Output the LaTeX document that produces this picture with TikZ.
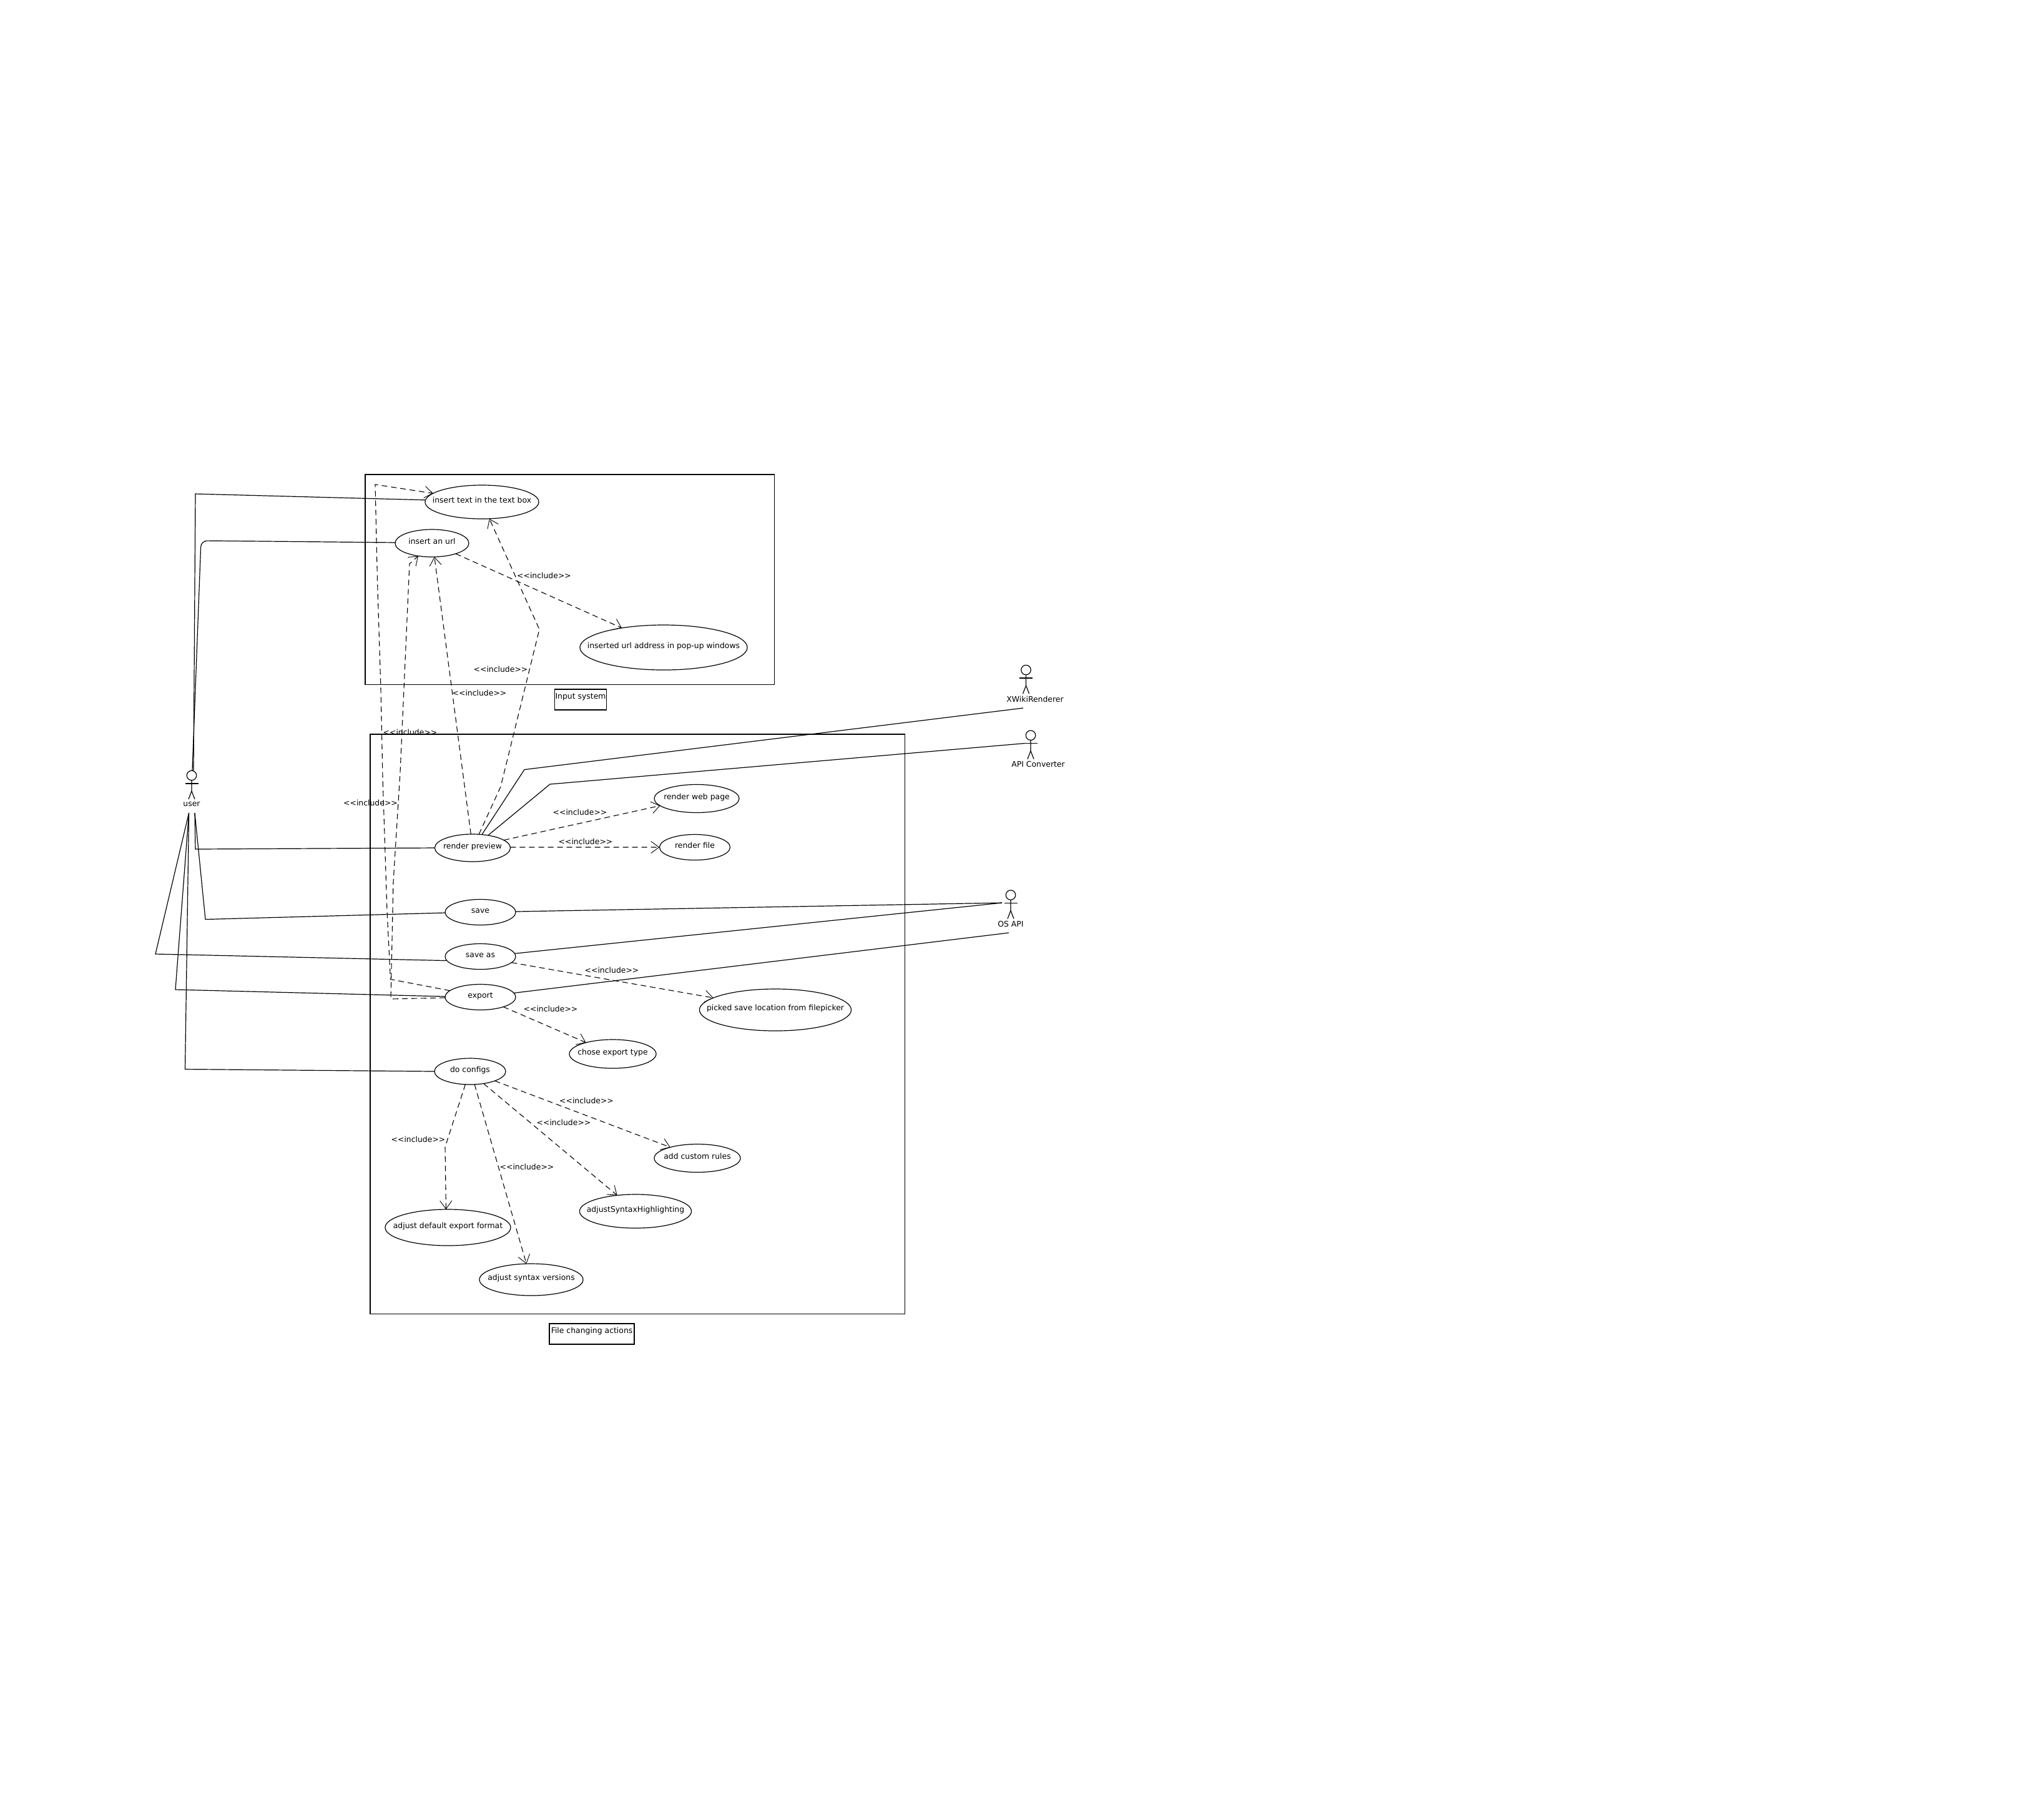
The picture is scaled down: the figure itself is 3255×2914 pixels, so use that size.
\documentclass[tikz,border=0pt]{standalone}
\usepackage{fontspec}
\setmainfont{DejaVu Sans}
\usetikzlibrary{arrows.meta,shapes.geometric}
\newcommand{\ct}[1]{\makebox[0pt]{#1}}
\newcommand{\actorfig}[4]{% name, head x, head y, label x
  \node[head] (#1) at (#2,#3) {};
  \draw[solidline] (#2-10.5,#3+13) -- (#2+10.5,#3+13);
  \draw[solidline] (#1.south) -- (#2,#3+25) -- (#2-5,#3+38);
  \draw[solidline] (#2,#3+25) -- (#2+5,#3+38);
}
\tikzset{
  x=0.01cm,y=-0.01cm,
  base/.style={font=\fontsize{3.53pt}{4.2pt}\selectfont},
  uc/.style n args={2}{base,draw=black,line width=0.012cm,ellipse,fill=white,inner sep=0pt,outer sep=0pt,
     minimum width=#1,minimum height=#2,text height=0.02cm,text depth=0pt},
  frame/.style={draw=black,line width=0.012cm,rectangle,anchor=north west,inner sep=0pt,outer sep=0pt},
  caption/.style={base,draw=black,line width=0.012cm,rectangle,anchor=north west,inner xsep=0.01cm,inner ysep=0pt,outer sep=0pt,
     text height=0.15cm,text depth=0.18cm,align=left},
  head/.style={draw=black,line width=0.012cm,circle,minimum size=0.155cm,inner sep=0pt,outer sep=0pt},
  actorname/.style={base,inner sep=0pt,outer sep=0pt},
  inc/.style={base,inner sep=0pt,outer sep=0pt},
  solidline/.style={draw=black,line width=0.012cm},
  incl/.style={draw=black,line width=0.011cm,dash pattern=on 0.09cm off 0.06cm,
     -{Straight Barb[length=0.13cm,width=0.19cm,line width=0.009cm]}},
}
\begin{document}
\begin{tikzpicture}
\path[fill=white,use as bounding box] (0,0) rectangle (3255,2914);
% frames
\node[frame,minimum width=6.55cm,minimum height=3.36cm] (inputframe) at (585,760) {};
\node[frame,minimum width=8.56cm,minimum height=9.28cm] (fileframe) at (593,1176) {};
\node[caption,minimum width=0.825cm] (inputcap) at (888.5,1104) {Input system};
\node[caption,minimum width=1.36cm] (filecap) at (880,2120) {File changing actions};
% use cases
\node[uc={1.82cm}{0.54cm}] (text) at (772,804) {\ct{insert text in the text box}};
\node[uc={1.18cm}{0.44cm}] (url) at (692,870) {\ct{insert an url}};
\node[uc={2.68cm}{0.72cm}] (popup) at (1063,1037) {\ct{inserted url address in pop-up windows}};
\node[uc={1.21cm}{0.44cm}] (render) at (757,1358) {\ct{render preview}};
\node[uc={1.36cm}{0.45cm}] (web) at (1116,1279) {\ct{render web page}};
\node[uc={1.13cm}{0.41cm}] (file) at (1113,1357) {\ct{render file}};
\node[uc={1.13cm}{0.41cm}] (save) at (769.5,1461) {\ct{save}};
\node[uc={1.13cm}{0.41cm}] (saveas) at (769.5,1532) {\ct{save as}};
\node[uc={1.13cm}{0.41cm}] (export) at (769.5,1597) {\ct{export}};
\node[uc={2.43cm}{0.67cm}] (picked) at (1242,1617.5) {\ct{picked save location from filepicker}};
\node[uc={1.39cm}{0.46cm}] (chose) at (981.5,1688) {\ct{chose export type}};
\node[uc={1.14cm}{0.42cm}] (config) at (753,1716) {\ct{do configs}};
\node[uc={2.01cm}{0.58cm}] (format) at (717.5,1966) {\ct{adjust default export format}};
\node[uc={1.66cm}{0.51cm}] (versions) at (851,2049.5) {\ct{adjust syntax versions}};
\node[uc={1.79cm}{0.54cm}] (highlight) at (1018,1940) {\ct{adjustSyntaxHighlighting}};
\node[uc={1.38cm}{0.45cm}] (rules) at (1117,1855) {\ct{add custom rules}};
% actors
\actorfig{user}{307}{1242}{}
\node[actorname] (username) at (307,1288) {user};
\actorfig{xwiki}{1643.5}{1073}{}
\node[actorname] (xwikiname) at (1658,1119.6) {XWikiRenderer};
\actorfig{api}{1651}{1177.7}{}
\node[actorname] (apiname) at (1663,1223.7) {API Converter};
\actorfig{os}{1619}{1433.5}{}
\node[actorname] (osname) at (1619,1479.5) {OS API};
% free ends of the actor connectors
\coordinate (uTopA) at (310,1234);
\coordinate (uTopB) at (308,1234);
\coordinate (uR) at (312,1302);
\coordinate (uL) at (302.6,1302);
\coordinate (xwEnd) at (1639,1134);
\coordinate (apiEnd) at (1641,1190.6);
\coordinate (osA) at (1605,1446);
\coordinate (osB) at (1616,1494);
% actor associations
\draw[solidline] (uTopA) -- (313,791) -- (text.178);
\draw[solidline,rounded corners=0.1cm] (uTopB) -- (322,866) -- (url.179);
\draw[solidline] (uR) -- (313,1360) -- (render.180);
\draw[solidline] (uR) -- (329,1472.5) -- (save.181);
\draw[solidline] (uL) -- (249,1528) -- (saveas.187.7);
\draw[solidline] (uL) -- (281,1585) -- (export.179);
\draw[solidline] (uL) -- (296.5,1712.5) -- (config.180);
\draw[solidline] (render.55) -- (840,1232.6) -- (xwEnd);
\draw[solidline] (render.39.8) -- (881,1256) -- (apiEnd);
\draw[solidline] (save.1.5) -- (osA);
\draw[solidline] (saveas.5.2) -- (osA);
\draw[solidline] (export.7.2) -- (osB);
% includes
\draw[incl] (export.168) -- (625.5,1568.5) -- (620,1459) -- (613,1245) -- (610,1103) -- (604.5,930) -- (601,776) -- (text.170.2);
\draw[incl] (export.181) -- (626,1600) -- (630,1413) -- (641,1237) -- (656,903) -- (url.223.6);
\draw[incl] (render.97.8) -- (url.-80);
\draw[incl] (render.65.6) -- (802,1260) -- (864,1008) -- (text.294);
\draw[incl] (url.-24.7) -- (popup.155.7);
\draw[incl] (render.14) -- (web.191.7);
\draw[incl] (render.1) -- (file.180);
\draw[incl] (saveas.-11.5) -- (picked.169.8);
\draw[incl] (export.-23) -- (chose.157);
\draw[incl] (config.-110.9) -- (713,1837) -- (format.96);
\draw[incl] (config.-71.6) -- (versions.107.4);
\draw[incl] (config.-42.3) -- (highlight.139.4);
\draw[incl] (config.-21.3) -- (rules.158.6);
% labels
\node[inc] (i1) at (871.5,921.7) {<{}<include>{}>};
\node[inc] (i2) at (802,1071.7) {<{}<include>{}>};
\node[inc] (i3) at (768,1109.7) {<{}<include>{}>};
\node[inc] (i4) at (657,1173) {<{}<include>{}>};
\node[inc] (i5) at (593.5,1286) {<{}<include>{}>};
\node[inc] (i6) at (929,1300.7) {<{}<include>{}>};
\node[inc] (i7) at (938,1348) {<{}<include>{}>};
\node[inc] (i8) at (980,1553.6) {<{}<include>{}>};
\node[inc] (i9) at (882,1615.6) {<{}<include>{}>};
\node[inc] (i10) at (939.5,1762.7) {<{}<include>{}>};
\node[inc] (i11) at (903,1797.7) {<{}<include>{}>};
\node[inc] (i12) at (670,1824.7) {<{}<include>{}>};
\node[inc] (i13) at (844,1868.7) {<{}<include>{}>};
\end{tikzpicture}
\end{document}
